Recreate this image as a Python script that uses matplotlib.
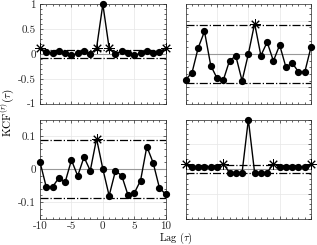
import numpy as np
import matplotlib
matplotlib.use("Agg")
import matplotlib.pyplot as plt
from matplotlib.ticker import MultipleLocator

plt.rcParams['font.family'] = 'cmr10'
plt.rcParams['mathtext.fontset'] = 'cm'
plt.rcParams['axes.unicode_minus'] = False

lags = np.arange(-10, 11)
bound = 0.0877

# autocorrelation series 1 (top-left)
kcf_11 = [0.125, 0.035, 0.03, 0.065, 0.013, -0.027, 0.013, 0.065, -0.005, 0.12,
          1.0,
          0.12, -0.005, 0.065, 0.013, -0.027, 0.013, 0.065, 0.03, 0.035, 0.125]
# cross-correlation (top-right)
kcf_12 = [-0.077, -0.057, 0.019, 0.068, -0.035, -0.073, -0.079, -0.020, -0.006, -0.081,
          0.0,
          0.092, -0.005, 0.036, -0.021, 0.027, -0.040, -0.027, -0.054, -0.055, 0.021]
# cross-correlation (bottom-left)
kcf_21 = [0.021, -0.055, -0.054, -0.027, -0.040, 0.027, -0.021, 0.036, -0.005, 0.092,
          0.0,
          -0.081, -0.006, -0.020, -0.079, -0.073, -0.035, 0.068, 0.019, -0.057, -0.077]
# autocorrelation series 2 (bottom-right)
kcf_22 = [0.10, 0.045, 0.045, 0.045, 0.045, 0.045, 0.11, -0.075, -0.075, -0.075,
          1.0,
          -0.075, -0.075, -0.075, 0.11, 0.045, 0.045, 0.045, 0.045, 0.045, 0.10]

panels = [
    (kcf_11, (-1, 1), [-1, -0.5, 0, 0.5, 1], ['-1', '-0.5', '0', '0.5', '1'], 0.1, True, False),
    (kcf_12, (-0.15, 0.15), [-0.1, 0, 0.1], None, 0.02, False, False),
    (kcf_21, (-0.15, 0.15), [-0.1, 0, 0.1], ['-0.1', '0', '0.1'], 0.02, True, True),
    (kcf_22, (-1, 1), [-1, -0.5, 0, 0.5, 1], None, 0.1, False, False),
]

W, H = 317, 245
fig = plt.figure(figsize=(W / 100, H / 100), dpi=100)
rects = [
    (40, 4.3, 165.7, 103.7),
    (185.7, 4.3, 311, 103.7),
    (40, 119.5, 165.7, 218.5),
    (185.7, 119.5, 311, 218.5),
]

for (vals, ylim, yt, ytl, yminor, show_y, show_x), (x0, y0, x1, y1) in zip(panels, rects):
    ax = fig.add_axes([x0 / W, 1 - y1 / H, (x1 - x0) / W, (y1 - y0) / H])
    v = np.array(vals)
    ax.grid(True, color='0.9', lw=0.5)
    ax.set_axisbelow(True)
    ax.axhline(0, color='0.6', lw=0.8, zorder=1)
    ax.plot(lags, np.full(lags.shape, bound), color='k', ls='-.', lw=0.9, zorder=2)
    ax.plot(lags, np.full(lags.shape, -bound), color='k', ls='-.', lw=0.9, zorder=2)
    ax.plot(lags, v, color='k', lw=1.0, zorder=3, clip_on=False)
    out = (np.abs(v) > bound) & (lags != 0)
    ax.plot(lags[~out], v[~out], 'o', color='k', ms=4.2, zorder=4, clip_on=False)
    ax.plot(lags[out], v[out], ls='none', marker=(8, 2, 0), color='k', ms=7.5, mew=0.7,
            zorder=4, clip_on=False)
    ax.set_xlim(-10, 10)
    ax.set_ylim(*ylim)
    ax.set_xticks([-10, -5, 0, 5, 10])
    ax.set_yticks(yt)
    ax.xaxis.set_minor_locator(MultipleLocator(1))
    ax.yaxis.set_minor_locator(MultipleLocator(yminor))
    ax.tick_params(which='both', direction='in', top=True, right=True, width=0.5,
                   labelsize=8, colors='0.15', pad=3)
    ax.tick_params(axis='x', which='major', pad=2)
    ax.tick_params(which='major', length=2.5)
    ax.tick_params(which='minor', length=1.3)
    if show_y:
        ax.set_yticklabels(ytl)
    else:
        ax.set_yticklabels([])
    if show_x:
        ax.set_xticklabels(['-10', '-5', '0', '5', '10'])
    else:
        ax.set_xticklabels([])
    for s in ax.spines.values():
        s.set_color('0.15')
        s.set_linewidth(0.5)

fig.text(8 / W, 1 - 112 / H, r'KCF$^{(r)}(\tau)$', rotation=90, ha='center', va='center', fontsize=8)
fig.text(175.5 / W, 1 - 238.5 / H, r'Lag $(\tau)$', ha='center', va='center', fontsize=7.5)

fig.savefig('out.png', dpi=100)
